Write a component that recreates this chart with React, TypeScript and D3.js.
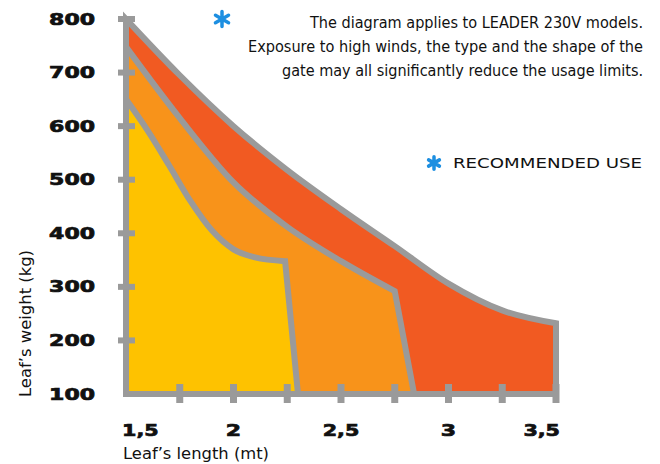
import * as d3 from "d3";

// usage limits: leaf length (m) vs leaf weight (kg)
const weightTicks = [100, 200, 300, 400, 500, 600, 700, 800];
const lengthTicks = [1.75, 2, 2.25, 2.5, 2.75, 3, 3.25, 3.5];
const lengthLabels = ["1,5", "2", "2,5", "3", "3,5"];
const lengthLabelValues = [1.5, 2, 2.5, 3, 3.5];

// outer limit (red zone top)
const outerLength = [1.5, 1.75, 2.0, 2.25, 2.5, 2.75, 3.0, 3.25, 3.5];
const outerWeight = [800, 695, 600, 518, 445, 376, 306, 256, 232];
// limit between orange and red
const middleLength = [1.5, 1.75, 2.0, 2.25, 2.5, 2.75];
const middleWeight = [748, 615, 495, 412, 348, 292];
const middleFoot = 2.84;
// recommended (yellow) limit
const innerLength = [1.5, 1.6, 1.7, 1.8, 1.9, 2.0, 2.1, 2.24];
const innerWeight = [650, 592, 527, 460, 405, 370, 355, 348];
const innerFoot = 2.3;

const noteLines = [
  "The diagram applies to LEADER 230V models.",
  "Exposure to high winds, the type and the shape of the",
  "gate may all significantly reduce the usage limits.",
];
const noteWidths = [333, 395, 361];

const GREY = "#9a9a9a";
const BLUE = "#1d8fe1";

const x = d3.scaleLinear().domain([1.5, 3.5]).range([126, 556]);
const y = d3.scaleLinear().domain([100, 800]).range([394, 19]);

function zone(lengths: number[], weights: number[], footLength: number) {
  const line = d3
    .line<number>()
    .x((d) => x(d))
    .y((_, i) => y(weights[i]))
    .curve(d3.curveMonotoneX);
  const top = (line(lengths) || "").replace(/^M/, "L");
  return `M${x(1.5)},${y(100)}${top}L${x(footLength)},${y(100)}Z`;
}

function tickLabelWidth(s: string) {
  let w = 0;
  for (const c of s) w += c === "," ? 6 : 15.3;
  return w;
}

export default function App() {
  const tickFont = "'DejaVu Sans', Verdana, sans-serif";
  const asterisk = d3.symbol(d3.symbolAsterisk);
  return (
    <svg
      width={660}
      height={464}
      style={{ position: "absolute", left: 0, top: 0, background: "#fff" }}
    >
      <path
        d={zone(outerLength, outerWeight, 3.5)}
        fill="#f15a22"
        stroke={GREY}
        strokeWidth={6}
      />
      <path
        d={zone(middleLength, middleWeight, middleFoot)}
        fill="#f8931a"
        stroke={GREY}
        strokeWidth={6}
      />
      <path
        d={zone(innerLength, innerWeight, innerFoot)}
        fill="#fec200"
        stroke={GREY}
        strokeWidth={6}
      />

      {/* axes */}
      <line x1={x(1.5)} x2={x(1.5)} y1={y(100) + 3} y2={y(800)} stroke={GREY} strokeWidth={6} />
      <line x1={x(1.5) - 3} x2={x(3.5) + 3} y1={y(100)} y2={y(100)} stroke={GREY} strokeWidth={6} />
      {weightTicks.slice(1).map((w) => (
        <line key={w} x1={x(1.5) - 8} x2={x(1.5) + 9} y1={y(w)} y2={y(w)} stroke={GREY} strokeWidth={6} />
      ))}
      {lengthTicks.map((l) => (
        <line key={l} x1={x(l)} x2={x(l)} y1={y(100) - 10} y2={y(100) + 9} stroke={GREY} strokeWidth={7} />
      ))}

      {weightTicks.map((w) => (
        <text
          key={w}
          x={95 - tickLabelWidth(String(w))}
          y={y(w) + 5.5}
          fontFamily={tickFont}
          fontWeight="bold"
          fontSize={15}
          textLength={tickLabelWidth(String(w))}
          lengthAdjust="spacingAndGlyphs"
          fill="#111"
          stroke="#111"
          strokeWidth={0.7}
        >
          {w}
        </text>
      ))}
      {lengthLabels.map((s, i) => {
        const w = tickLabelWidth(s);
        const v = lengthLabelValues[i];
        let left = x(v) - w / 2;
        if (i === 0) left = x(v) - 4;
        if (i === lengthLabels.length - 1) left = x(v) + 4 - w;
        return (
          <text
            key={s}
            x={left}
            y={436}
            fontFamily={tickFont}
            fontWeight="bold"
            fontSize={16}
            textLength={w}
            lengthAdjust="spacingAndGlyphs"
            fill="#111"
            stroke="#111"
            strokeWidth={0.7}
          >
            {s}
          </text>
        );
      })}

      <text
        x={123}
        y={459}
        fontFamily="'DejaVu Sans', sans-serif"
        fontSize={16}
        textLength={146}
        lengthAdjust="spacingAndGlyphs"
        fill="#111"
      >
        Leaf’s length (mt)
      </text>
      <text
        transform="translate(31,397) rotate(-90)"
        fontFamily="'DejaVu Sans', sans-serif"
        fontSize={16}
        textLength={147}
        lengthAdjust="spacingAndGlyphs"
        fill="#111"
      >
        Leaf’s weight (kg)
      </text>

      {/* note */}
      <path
        d={asterisk.size(160)() || ""}
        transform="translate(222,19)"
        fill="none"
        stroke={BLUE}
        strokeWidth={3.5}
        strokeLinecap="round"
      />
      {noteLines.map((s, i) => (
        <text
          key={i}
          x={643 - noteWidths[i]}
          y={28 + i * 24}
          fontFamily="'DejaVu Sans Condensed', 'DejaVu Sans', sans-serif"
          fontSize={16}
          textLength={noteWidths[i]}
          lengthAdjust="spacingAndGlyphs"
          fill="#111"
        >
          {s}
        </text>
      ))}

      {/* legend */}
      <path
        d={asterisk.size(110)() || ""}
        transform="translate(434,163)"
        fill="none"
        stroke={BLUE}
        strokeWidth={3.5}
        strokeLinecap="round"
      />
      <text
        x={453}
        y={168}
        fontFamily="'DejaVu Sans', sans-serif"
        fontSize={13.5}
        textLength={189}
        lengthAdjust="spacingAndGlyphs"
        fill="#111"
      >
        RECOMMENDED USE
      </text>
    </svg>
  );
}
